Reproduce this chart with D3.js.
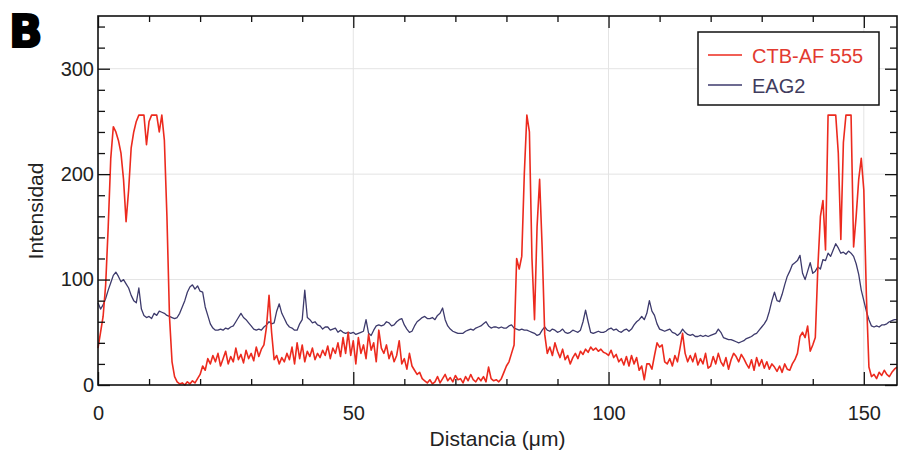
<!DOCTYPE html>
<html><head><meta charset="utf-8">
<script src="https://cdn.jsdelivr.net/npm/d3@7"></script>
<style>body{margin:0;background:#fff} svg{display:block}</style>
</head><body>
<svg id="chart" width="899" height="466"></svg>
<script>
// sampling step along the profile (µm)
const distanceStep = 0.5;

// CTB-AF 555 intensity, one row = 10 µm (20 samples)
const ctbValues = [
  35,50,65,95,150,215,245,240,232,220,195,155,185,225,240,250,256,256,256,228,
  250,256,256,256,240,256,232,160,65,22,8,3,1,2,0,3,1,4,2,6,
  10,18,14,25,20,28,22,30,18,25,32,20,27,22,35,24,29,21,33,25,
  30,23,36,27,34,38,55,85,50,24,28,20,26,22,30,24,36,20,40,25,
  38,22,32,27,35,24,30,26,33,28,37,25,35,30,40,27,45,30,50,28,
  42,20,45,30,38,25,48,33,40,22,52,35,30,38,25,32,22,28,42,20,
  25,15,30,18,14,10,12,6,4,2,5,1,3,8,2,6,10,4,7,3,
  9,5,6,2,8,4,10,5,3,7,4,8,3,17,6,4,5,3,6,12,
  18,22,30,38,120,110,122,200,256,240,120,62,150,195,130,48,30,36,28,40,
  32,26,34,24,28,20,26,30,25,32,29,34,31,36,33,35,32,34,31,30,
  28,33,26,29,22,25,19,27,18,28,20,26,14,18,5,20,20,15,28,40,
  36,38,22,20,25,18,28,22,35,49,30,22,28,22,30,19,25,20,30,16,
  18,27,20,30,22,18,26,15,24,30,27,22,29,25,20,16,24,14,26,18,
  24,16,22,15,20,17,13,18,12,20,15,14,20,24,30,46,50,45,56,32,
  38,45,112,160,175,128,256,256,256,256,220,138,230,256,256,256,131,160,195,215,
  185,85,17,8,10,6,12,9,14,10,8,12,15,17
];

// EAG2 intensity, one row = 10 µm (20 samples)
const eag2Values = [
  78,72,76,82,90,97,104,107,103,98,100,96,92,85,80,78,92,72,66,64,
  65,63,68,66,70,69,68,66,65,64,63,64,68,74,80,88,93,95,91,94,
  89,88,74,66,58,54,52,52,53,52,54,53,55,56,60,64,68,64,62,59,
  56,53,52,53,52,55,57,60,58,59,70,77,68,63,58,55,54,52,52,58,
  62,90,64,62,59,60,57,56,53,55,55,52,53,54,50,52,50,49,50,49,
  50,48,49,50,51,62,49,47,52,56,57,56,57,60,59,56,57,60,62,63,
  57,53,50,51,56,60,62,64,65,63,63,64,62,66,68,73,62,56,53,51,
  50,49,49,49,51,52,53,52,54,55,56,58,60,56,54,55,55,54,55,54,
  54,56,57,54,53,52,53,52,52,51,50,49,47,48,52,55,52,51,53,52,
  50,51,53,50,49,50,52,51,50,52,60,71,60,50,49,50,51,50,50,51,
  53,54,52,53,51,50,52,53,51,53,57,60,62,65,62,68,80,70,66,58,
  53,52,51,52,53,50,49,47,49,53,50,48,47,48,46,46,47,46,47,46,
  47,48,49,53,50,45,44,43,43,42,41,40,41,42,44,45,46,48,49,52,
  55,58,62,70,80,88,80,79,86,95,103,108,114,116,118,123,106,100,108,116,
  106,108,112,110,119,118,125,122,128,134,130,125,126,124,127,125,122,115,105,90,
  80,70,62,56,55,56,55,57,57,58,60,61,62,62
];

const seriesNames = ["CTB-AF 555", "EAG2"];
const seriesColors = ["#ec2a1e", "#3d3a6c"];
const legendTextColors = ["#e23a30", "#3f3c5e"];

const xDomain = [0, 156.5];
const yDomain = [0, 350];
const xMajorTicks = [0, 50, 100, 150];
const xMinorTicks = [10, 20, 30, 40, 60, 70, 80, 90, 110, 120, 130, 140];
const yMajorTicks = [0, 100, 200, 300];
const yMinorTicks = [20, 40, 60, 80, 120, 140, 160, 180, 220, 240, 260, 280, 320, 340];
const xTitle = "Distancia (μm)";
const yTitle = "Intensidad";
const panelLabel = "B";

const svg = d3.select("#chart");
const W = 899, H = 466;
const margin = {top: 16, right: 2, bottom: 81, left: 98};
const x = d3.scaleLinear().domain(xDomain).range([margin.left, W - margin.right]);
const y = d3.scaleLinear().domain(yDomain).range([H - margin.bottom, margin.top]);
const font = "'Liberation Sans', Arial, sans-serif";

// grid
const grid = svg.append("g").attr("stroke", "#e4e4e4").attr("stroke-width", 1);
grid.selectAll("line.gx").data(xMajorTicks.filter(d => d > 0)).join("line")
  .attr("x1", d => x(d)).attr("x2", d => x(d)).attr("y1", y(yDomain[1])).attr("y2", y(0));
grid.selectAll("line.gy").data(yMajorTicks.filter(d => d > 0)).join("line")
  .attr("y1", d => y(d)).attr("y2", d => y(d)).attr("x1", x(xDomain[0])).attr("x2", x(xDomain[1]));

// lines
const toPoints = vals => vals.map((v, i) => ({d: i * distanceStep, v}));
const line = d3.line().x(p => x(p.d)).y(p => y(p.v));
const series = [toPoints(ctbValues), toPoints(eag2Values)];
svg.append("path").datum(series[1]).attr("d", line)
  .attr("fill", "none").attr("stroke", seriesColors[1]).attr("stroke-width", 1.3).attr("stroke-linejoin", "round");
svg.append("path").datum(series[0]).attr("d", line)
  .attr("fill", "none").attr("stroke", seriesColors[0]).attr("stroke-width", 1.6).attr("stroke-linejoin", "round");

// axes (ticks inward)
function tickAxis(axisFn, scale, vals, size, pos, isX) {
  const g = svg.append("g")
    .attr("transform", isX ? `translate(0,${pos})` : `translate(${pos},0)`)
    .call(axisFn(scale).tickValues(vals).tickSize(size).tickFormat(""));
  g.select(".domain").remove();
  g.selectAll(".tick line").attr("stroke", "#111").attr("stroke-width", 1.3);
  return g;
}
const yb = y(0), yt = y(yDomain[1]), xl = x(0), xr = x(xDomain[1]);
tickAxis(d3.axisBottom, x, xMajorTicks, -13, yb, true);
tickAxis(d3.axisBottom, x, xMinorTicks, -6, yb, true);
tickAxis(d3.axisTop, x, xMajorTicks, -12, yt, true);
tickAxis(d3.axisTop, x, xMinorTicks, -6, yt, true);
tickAxis(d3.axisLeft, y, yMajorTicks, -12, xl, false);
tickAxis(d3.axisLeft, y, yMinorTicks, -7, xl, false);
tickAxis(d3.axisRight, y, yMajorTicks, -12, xr, false);
tickAxis(d3.axisRight, y, yMinorTicks, -7, xr, false);

// labels
const xLab = svg.append("g").attr("transform", `translate(0,${yb})`)
  .call(d3.axisBottom(x).tickValues(xMajorTicks).tickSize(0).tickPadding(21).tickFormat(d3.format("d")));
xLab.select(".domain").remove();
xLab.selectAll("text").attr("font-family", font).attr("font-size", 20).attr("fill", "#222");
const yLab = svg.append("g").attr("transform", `translate(${xl},0)`)
  .call(d3.axisLeft(y).tickValues(yMajorTicks).tickSize(0).tickPadding(4).tickFormat(d3.format("d")));
yLab.select(".domain").remove();
yLab.selectAll("text").attr("font-family", font).attr("font-size", 20).attr("fill", "#222");

// frame
svg.append("rect").attr("x", xl).attr("y", yt).attr("width", xr - xl).attr("height", yb - yt)
  .attr("fill", "none").attr("stroke", "#111").attr("stroke-width", 1.6);

// titles
svg.append("text").attr("x", (xl + xr) / 2).attr("y", 446).attr("text-anchor", "middle")
  .attr("font-family", font).attr("font-size", 21).attr("fill", "#222").text(xTitle);
svg.append("text").attr("transform", "translate(43,211) rotate(-90)").attr("text-anchor", "middle")
  .attr("font-family", font).attr("font-size", 21).attr("fill", "#222").text(yTitle);
svg.append("text").attr("x", 9).attr("y", 47)
  .attr("font-family", "'DejaVu Sans', sans-serif").attr("font-weight", "bold").attr("font-size", 44)
  .attr("fill", "#000").attr("stroke", "#000").attr("stroke-width", 2).text(panelLabel);

// legend
const lg = svg.append("g");
lg.append("rect").attr("x", 698).attr("y", 32).attr("width", 181).attr("height", 73)
  .attr("fill", "#fff").attr("stroke", "#111").attr("stroke-width", 1.5);
seriesNames.forEach((name, i) => {
  const cy = 55 + i * 30;
  lg.append("line").attr("x1", 708).attr("x2", 742).attr("y1", cy).attr("y2", cy)
    .attr("stroke", seriesColors[i]).attr("stroke-width", 1.5);
  lg.append("text").attr("x", 752).attr("y", cy + 7.5)
    .attr("font-family", font).attr("font-size", 20).attr("fill", legendTextColors[i]).text(name);
});
</script>
</body></html>
